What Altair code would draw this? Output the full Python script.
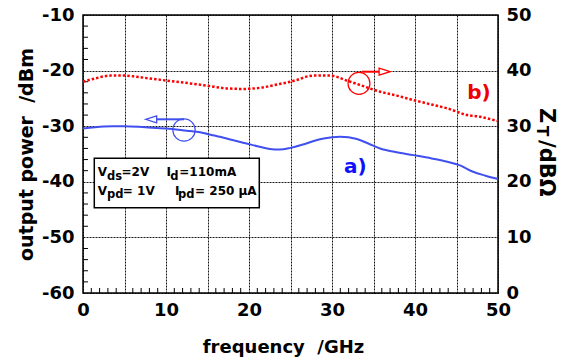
import altair as alt
import pandas as pd

# ---- data ----
freq_a = [0, 2.5, 3.6, 5, 7.5, 10, 12.5, 13.7, 15, 16.5, 17.5, 19.7, 21, 22.5, 23.7, 25,
          26.5, 27.7, 29, 31, 33, 34.5, 35.8, 37.5, 39.8, 42, 43.9, 45.5, 47, 48.5, 50]
power_a = [-30.4, -30.05, -30.0, -30.0, -30.2, -30.4, -30.8, -31.0, -31.4, -31.9, -32.3, -33.1,
           -33.6, -34.1, -34.2, -33.9, -33.3, -32.7, -32.2, -31.9, -32.3, -33.2, -34.0, -34.6,
           -35.2, -35.8, -36.4, -37.1, -38.2, -38.9, -39.5]

freq_b = [0, 1.5, 3.3, 5, 6.9, 8.5, 10.1, 12.9, 14.9, 17.3, 19.3, 21.3, 23.7, 25, 25.7, 27.7,
          29.8, 31.8, 33.4, 35.8, 37.8, 39.8, 42, 43.9, 46.3, 47.8, 50]
zt_b = [38.0, 38.6, 39.1, 39.1, 38.8, 38.5, 38.2, 37.7, 37.3, 36.8, 36.7, 36.9, 37.6, 38.0, 38.3,
        39.1, 39.1, 38.2, 37.4, 36.2, 35.5, 34.7, 33.9, 33.2, 32.0, 31.7, 30.9]

x_ticks = [0, 5, 10, 15, 20, 25, 30, 35, 40, 45, 50]
left_ticks = [-60, -50, -40, -30, -20, -10]
right_ticks = [0, 10, 20, 30, 40, 50]
x_minor = [1, 2, 3, 4, 6, 7, 8, 9, 11, 12, 13, 14, 16, 17, 18, 19, 21, 22, 23, 24, 26, 27, 28, 29,
           31, 32, 33, 34, 36, 37, 38, 39, 41, 42, 43, 44, 46, 47, 48, 49]
y_minor = [-58, -56, -54, -52, -48, -46, -44, -42, -38, -36, -34, -32, -28, -26, -24, -22,
           -18, -16, -14, -12]

FONT = "DejaVu Sans"
BLUE_LINE = "#4050f0"
BLUE_TXT = "#1010ff"
RED = "#ff0000"
NB = "\u00a0"

X_SCALE = alt.Scale(domain=[0, 50], nice=False, zero=False)
L_SCALE = alt.Scale(domain=[-60, -10], nice=False, zero=False)
R_SCALE = alt.Scale(domain=[0, 50], nice=False, zero=False)

x_axis = alt.Axis(values=x_ticks, labelExpr="datum.value % 10 == 0 ? toString(datum.value) : ''",
                  labelFlush=False, labelOverlap=False,
                  grid=True, gridDash=[2, 1], gridColor="black", gridWidth=1, gridOpacity=0.9,
                  ticks=False, domain=False, labelFont=FONT, labelFontSize=18,
                  labelFontWeight="bold", labelColor="black", labelPadding=8,
                  title="frequency" + NB * 2 + "/GHz", titleFont=FONT, titleFontSize=18,
                  titleFontWeight="bold", titleColor="black", titlePadding=19, titleX=200)
l_axis = alt.Axis(values=left_ticks, labelExpr="toString(datum.value)", labelFlush=False,
                  labelOverlap=False, grid=True, gridDash=[2, 1], gridColor="black",
                  gridWidth=1, gridOpacity=0.9, ticks=False, domain=False, labelFont=FONT,
                  labelFontSize=18, labelFontWeight="bold", labelColor="black", labelPadding=9,
                  title="output power" + NB * 2 + "/dBm", titleFont=FONT, titleFontSize=19,
                  titleFontWeight="bold", titleColor="black", titlePadding=5)
r_axis = alt.Axis(values=right_ticks, orient="right", labelExpr="toString(datum.value)",
                  labelFlush=False, labelOverlap=False, grid=False, ticks=False, domain=False,
                  labelFont=FONT, labelFontSize=18, labelFontWeight="bold", labelColor="black",
                  labelPadding=8, title=None)

X = alt.X("f:Q", scale=X_SCALE, axis=x_axis)
YL = alt.Y("y:Q", scale=L_SCALE, axis=l_axis)
YR = alt.Y("y:Q", scale=R_SCALE, axis=r_axis)

# ---- left (dBm) group ----
df_a = pd.DataFrame({"f": freq_a, "y": power_a})
line_a = alt.Chart(df_a).mark_line(color=BLUE_LINE, strokeWidth=2, interpolate="monotone").encode(x=X, y=YL)

minor_x = alt.Chart(pd.DataFrame({"f": x_minor, "y": [-60] * len(x_minor), "y2": [-59.1] * len(x_minor)})).mark_rule(
    color="black", strokeWidth=1).encode(x=X, y=YL, y2="y2:Q")
minor_y = alt.Chart(pd.DataFrame({"f": [0] * len(y_minor), "f2": [0.6] * len(y_minor), "y": y_minor})).mark_rule(
    color="black", strokeWidth=1).encode(x=X, x2="f2:Q", y=YL)

box = alt.Chart(pd.DataFrame({"f": [1.36], "f2": [21.24], "y": [-35.77], "y2": [-44.66]})).mark_rect(
    fill="white", stroke="black", strokeWidth=1.5).encode(x=X, x2="f2:Q", y=YL, y2="y2:Q")

leg_main = pd.DataFrame({
    "t": ["V", "=2V", "I", "=110mA", "V", "=" + NB + "1V", "I", "=" + NB + "250" + NB + "µA"],
    "f": [1.77, 4.64, 10.06, 11.6, 1.77, 4.8, 11.08, 13.5],
    "y": [-38.96, -38.96, -38.96, -38.96, -42.37, -42.37, -42.37, -42.37]})
leg_sub = pd.DataFrame({
    "t": ["ds", "d", "pd", "pd"],
    "f": [2.89, 10.5, 2.89, 11.45],
    "y": [-39.68, -39.68, -43.0, -43.0]})
t_main = alt.Chart(leg_main).mark_text(font=FONT, fontSize=12, fontWeight="bold", align="left",
                                       baseline="alphabetic", color="black").encode(x=X, y=YL, text="t:N")
t_sub = alt.Chart(leg_sub).mark_text(font=FONT, fontSize=11.5, fontWeight="bold", align="left",
                                     baseline="alphabetic", color="black").encode(x=X, y=YL, text="t:N")

circ_a = alt.Chart(pd.DataFrame({"f": [12.17], "y": [-30.68]})).mark_point(
    shape="circle", size=500, filled=False, color=BLUE_LINE, strokeWidth=1.2, opacity=1).encode(x=X, y=YL)
arr_a = alt.Chart(pd.DataFrame({"f": [12.17], "f2": [8.88], "y": [-28.76]})).mark_rule(
    color=BLUE_LINE, strokeWidth=2).encode(x=X, x2="f2:Q", y=YL)
head_a = alt.Chart(pd.DataFrame({"f": [7.55], "y": [-28.76]})).mark_point(
    shape="M0,0 L2,-0.64 L2,0.64 Z", size=121, filled=True, fill="white", stroke=BLUE_LINE,
    strokeWidth=1.3, opacity=1, fillOpacity=1).encode(x=X, y=YL)
lab_a = alt.Chart(pd.DataFrame({"f": [32.8], "y": [-37.3], "t": ["a)"]})).mark_text(
    font=FONT, fontSize=20, fontWeight="bold", color=BLUE_TXT).encode(x=X, y=YL, text="t:N")

left = alt.layer(minor_x, minor_y, line_a, box, t_main, t_sub, circ_a, arr_a, head_a, lab_a)

# ---- right (dBOhm) group ----
df_b = pd.DataFrame({"f": freq_b, "y": zt_b})
line_b = alt.Chart(df_b).mark_line(color=RED, strokeWidth=2.5, strokeDash=[2.5, 2],
                                   interpolate="monotone").encode(x=X, y=YR)
circ_b = alt.Chart(pd.DataFrame({"f": [33.25], "y": [37.7]})).mark_point(
    shape="circle", size=480, filled=False, color=RED, strokeWidth=1.2, opacity=1).encode(x=X, y=YR)
arr_b = alt.Chart(pd.DataFrame({"f": [33.58], "f2": [35.67], "y": [39.8]})).mark_rule(
    color=RED, strokeWidth=2).encode(x=X, x2="f2:Q", y=YR)
head_b = alt.Chart(pd.DataFrame({"f": [37.0], "y": [39.8]})).mark_point(
    shape="M0,0 L-2,-0.64 L-2,0.64 Z", size=121, filled=True, fill="white", stroke=RED,
    strokeWidth=1.3, opacity=1, fillOpacity=1).encode(x=X, y=YR)
lab_b = alt.Chart(pd.DataFrame({"f": [47.7], "y": [36.0], "t": ["b)"]})).mark_text(
    font=FONT, fontSize=20, fontWeight="bold", color="#ee0000").encode(x=X, y=YR, text="t:N")

# right axis title "Z_T /dBΩ" (rotated, with subscript)
rt_big = alt.Chart(pd.DataFrame({"t": ["Z", NB + "/dBΩ"], "px": [457, 457], "py": [93, 125]})).mark_text(
    font=FONT, fontSize=21, fontWeight="bold", angle=90, align="left", baseline="alphabetic",
    color="black").encode(x=alt.X("px:Q", scale=None), y=alt.Y("py:Q", scale=None), text="t:N")
rt_sub = alt.Chart(pd.DataFrame({"t": ["T"], "px": [454], "py": [111]})).mark_text(
    font=FONT, fontSize=15, fontWeight="bold", angle=90, align="left", baseline="alphabetic",
    color="black").encode(x=alt.X("px:Q", scale=None), y=alt.Y("py:Q", scale=None), text="t:N")

right = alt.layer(line_b, circ_b, arr_b, head_b, lab_b)

chart = alt.layer(left, right, rt_big, rt_sub).resolve_scale(y="independent").properties(
    width=415, height=278,
    padding={"left": 83, "top": 15, "right": 64, "bottom": 70},
    autosize=alt.AutoSizeParams(type="none"),
    background="white",
).configure_view(stroke="black", strokeWidth=1.5)

chart.save("out.html", embed_options={"renderer": "svg", "actions": False})
